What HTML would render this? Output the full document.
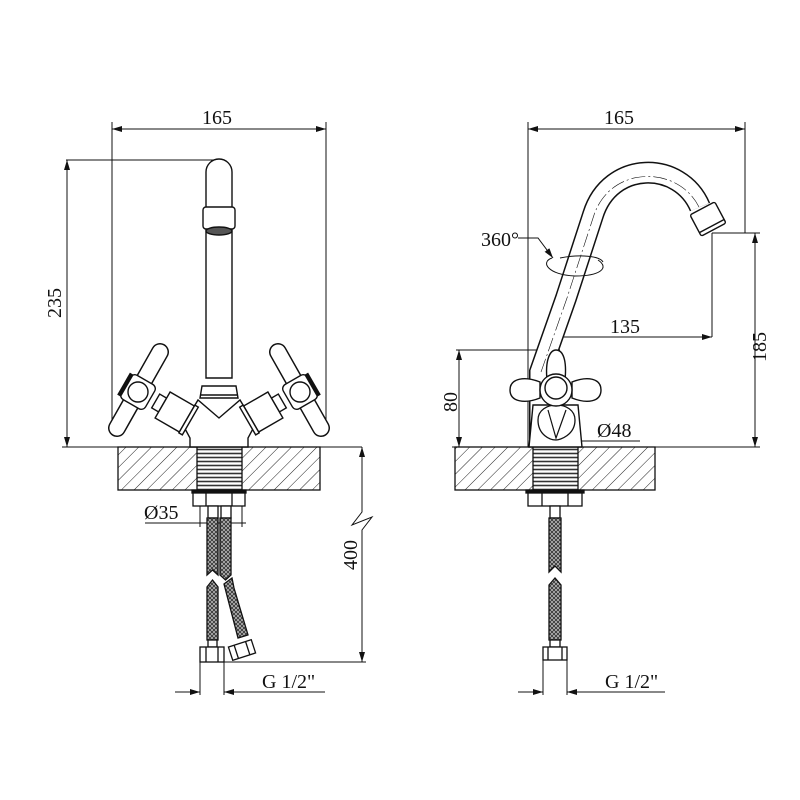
<!DOCTYPE html>
<html><head><meta charset="utf-8"><style>
html,body{margin:0;padding:0;background:#fff;}
svg{display:block;}
text{font-family:"Liberation Serif",serif;font-size:20px;fill:#111;}
</style></head><body>
<svg width="800" height="800" viewBox="0 0 800 800" xmlns="http://www.w3.org/2000/svg">
<defs>
<pattern id="hatch" width="9" height="9" patternUnits="userSpaceOnUse" patternTransform="rotate(45)">
<rect width="9" height="9" fill="#fff"/><line x1="0" y1="0" x2="0" y2="9" stroke="#222" stroke-width="1"/>
</pattern>
<pattern id="thread" width="4" height="4" patternUnits="userSpaceOnUse">
<rect width="4" height="4" fill="#fff"/><line x1="0" y1="1.5" x2="4" y2="1.5" stroke="#333" stroke-width="1.6"/>
</pattern>
<pattern id="braid" width="4" height="4" patternUnits="userSpaceOnUse">
<rect width="4" height="4" fill="#bbb"/><path d="M0 0 L4 4 M4 0 L0 4" stroke="#333" stroke-width="0.9"/>
</pattern>
<marker id="ar" viewBox="0 0 10 6" refX="10" refY="3" markerWidth="10" markerHeight="6" orient="auto-start-reverse" markerUnits="userSpaceOnUse">
<path d="M0 0 L10 3 L0 6 Z" fill="#111"/></marker>
</defs>
<g fill="none" stroke="#111" stroke-width="1">
<!-- ===== LEFT VIEW dims ===== -->
<line x1="112" y1="129" x2="326" y2="129" marker-start="url(#ar)" marker-end="url(#ar)"/>
<line x1="112" y1="122" x2="112" y2="425"/>
<line x1="326" y1="122" x2="326" y2="427"/>
<line x1="66" y1="160" x2="218" y2="160"/>
<line x1="67" y1="160" x2="67" y2="447" marker-start="url(#ar)" marker-end="url(#ar)"/>
<line x1="62" y1="447" x2="362" y2="447"/>
<!-- 400 -->
<path d="M362 447 L362 512 L352 525 L372 517 L362 530 L362 662" marker-start="url(#ar)" marker-end="url(#ar)"/>
<line x1="224" y1="662" x2="366" y2="662"/>
<!-- Ø35 -->
<line x1="145" y1="523" x2="246" y2="523"/>
<line x1="200" y1="505" x2="200" y2="527"/>
<line x1="242" y1="505" x2="242" y2="527"/>
<!-- G 1/2 left -->
<line x1="200" y1="662" x2="200" y2="695"/>
<line x1="224" y1="662" x2="224" y2="695"/>
<line x1="175" y1="692" x2="200" y2="692" marker-end="url(#ar)"/>
<line x1="224" y1="692" x2="325" y2="692" marker-start="url(#ar)"/>
</g>
<text x="202" y="124">165</text>
<text transform="translate(61,318) rotate(-90)">235</text>
<text transform="translate(357,570) rotate(-90)">400</text>
<text x="144" y="519">Ø35</text>
<text x="262" y="688">G 1/2"</text>

<!-- LEFT slab -->
<g stroke="#111" stroke-width="1.3">
<rect x="118" y="447" width="202" height="43" fill="url(#hatch)"/>
<rect x="197" y="447" width="45" height="45" fill="url(#thread)"/>
<rect x="192" y="490" width="54" height="3" fill="#111"/>
<rect x="193" y="493" width="52" height="13" fill="#fff"/>
<line x1="206" y1="493" x2="206" y2="506"/><line x1="232" y1="493" x2="232" y2="506"/>
<!-- hoses -->
<rect x="208" y="506" width="10" height="12" fill="#fff"/>
<rect x="221" y="506" width="10" height="12" fill="#fff"/>
<path d="M207 518 L218 518 L218 575 L212.5 570 L207 575 Z" fill="url(#braid)"/>
<path d="M220 518 L231 518 L231 575 L225.5 580 L220 575 Z" fill="url(#braid)"/>
<path d="M207 587 L212.5 580 L218 587 L218 640 L207 640 Z" fill="url(#braid)"/>
<path d="M224 584 L232 578 L234 588 L248 635 L238 638 Z" fill="url(#braid)"/>
<rect x="208" y="640" width="9" height="7" fill="#fff"/>
<rect x="200" y="647" width="24" height="15" fill="#fff"/>
<line x1="206" y1="647" x2="206" y2="662"/><line x1="218" y1="647" x2="218" y2="662"/>
<g transform="translate(242,650) rotate(-18)"><rect x="-12" y="-7" width="24" height="14" fill="#fff"/><line x1="-6" y1="-7" x2="-6" y2="7"/><line x1="6" y1="-7" x2="6" y2="7"/></g>
</g>

<!-- LEFT faucet -->
<g stroke="#111" stroke-width="1.4" fill="#fff">
<path d="M206 378 L206 172 A13 13 0 0 1 232 172 L232 378 Z"/>
<rect x="203" y="207" width="32" height="22" rx="3"/>
<ellipse cx="219" cy="231" rx="13" ry="4" fill="#555"/>
<path d="M183 425 L190 438 L190 447 L248 447 L248 438 L255 425 L240 400 L219 418 L198 400 Z"/>
<path d="M202 386 L236 386 L238 398 L200 398 Z"/>
<line x1="201" y1="395" x2="237" y2="395"/>
<g id="lh">
<line x1="160" y1="352" x2="117" y2="428" stroke="#111" stroke-width="18" stroke-linecap="round"/>
<line x1="160" y1="352" x2="117" y2="428" stroke="#fff" stroke-width="15" stroke-linecap="round"/>
<g transform="translate(138,392) rotate(30)"><rect x="-14" y="-14" width="28" height="28" rx="5"/><rect x="-16" y="-12" width="3" height="24" fill="#111"/></g>
<circle cx="138" cy="392" r="10"/>
<g transform="translate(173,411) rotate(30)"><rect x="-20" y="-8" width="8" height="16"/><rect x="-12" y="-15" width="28" height="30"/><rect x="16" y="-16" width="4" height="32"/></g>
</g>
<use href="#lh" transform="translate(438,0) scale(-1,1)"/>
</g>

<!-- ===== RIGHT VIEW dims ===== -->
<g fill="none" stroke="#111" stroke-width="1">
<line x1="528" y1="129" x2="745" y2="129" marker-start="url(#ar)" marker-end="url(#ar)"/>
<line x1="528" y1="122" x2="528" y2="447"/>
<line x1="745" y1="122" x2="745" y2="233"/>
<line x1="712" y1="233" x2="760" y2="233"/>
<line x1="755" y1="233" x2="755" y2="447" marker-start="url(#ar)" marker-end="url(#ar)"/>
<line x1="452" y1="447" x2="760" y2="447"/>
<line x1="712" y1="233" x2="712" y2="337"/>
<line x1="547" y1="337" x2="712" y2="337" marker-start="url(#ar)" marker-end="url(#ar)"/>
<line x1="456" y1="350" x2="560" y2="350"/>
<line x1="459" y1="350" x2="459" y2="447" marker-start="url(#ar)" marker-end="url(#ar)"/>
<line x1="529" y1="441" x2="640" y2="441"/>
<line x1="529" y1="441" x2="580" y2="441" marker-start="url(#ar)" marker-end="url(#ar)"/>
<path d="M518 238 L538 238 L553 258" marker-end="url(#ar)"/>
<line x1="518" y1="692" x2="543" y2="692" marker-end="url(#ar)"/>
<line x1="567" y1="692" x2="665" y2="692" marker-start="url(#ar)"/>
<line x1="543" y1="660" x2="543" y2="695"/>
<line x1="567" y1="660" x2="567" y2="695"/>
</g>
<text x="604" y="124">165</text>
<text x="481" y="246">360°</text>
<text x="610" y="333">135</text>
<text transform="translate(766,362) rotate(-90)">185</text>
<text transform="translate(457,412) rotate(-90)">80</text>
<text x="597" y="437">Ø48</text>
<text x="605" y="688">G 1/2"</text>

<!-- RIGHT slab -->
<g stroke="#111" stroke-width="1.3">
<rect x="455" y="447" width="200" height="43" fill="url(#hatch)"/>
<rect x="533" y="447" width="45" height="45" fill="url(#thread)"/>
<rect x="526" y="490" width="58" height="3" fill="#111"/>
<rect x="528" y="493" width="54" height="13" fill="#fff"/>
<line x1="542" y1="493" x2="542" y2="506"/><line x1="568" y1="493" x2="568" y2="506"/>
<rect x="550" y="506" width="10" height="12" fill="#fff"/>
<path d="M549 518 L561 518 L561 572 L555 566 L549 572 Z" fill="url(#braid)"/>
<path d="M549 585 L555 578 L561 585 L561 640 L549 640 Z" fill="url(#braid)"/>
<rect x="550" y="640" width="10" height="7" fill="#fff"/>
<rect x="543" y="647" width="24" height="13" fill="#fff"/>
<line x1="548" y1="647" x2="548" y2="660"/><line x1="562" y1="647" x2="562" y2="660"/>
</g>

<!-- RIGHT faucet -->
<g stroke="#111" fill="none">
<path d="M540 447 L540 372 L566 298 L593 215 C610 160 680 160 700 207" stroke-width="22"/>
<path d="M540 447 L540 372 L566 298 L593 215 C610 160 680 160 700 207" stroke="#fff" stroke-width="19"/>
<path d="M541 372 L567 298 L594 215 C611 165 678 165 699 207" stroke-width="0.6" stroke-dasharray="14 3 2 3"/>
<g transform="translate(708,219) rotate(-28)" fill="#fff" stroke-width="1.4"><rect x="-14" y="-12" width="28" height="24" rx="2"/><line x1="-14" y1="8" x2="14" y2="8"/></g>
<path d="M552 258 C540 262 548 275 575 276 C600 276 610 268 598 260" stroke-width="1"/>
<path d="M560 258 C580 254 600 256 603 262" stroke-width="1"/>
<path d="M529 447 L533 405 L578 405 L582 447 Z" fill="#fff" stroke-width="1.4"/>
<path d="M538 420 C538 400 575 400 575 420 C575 435 560 440 556 440 C550 440 538 435 538 420 Z" fill="#fff" stroke-width="1.3"/>
<path d="M548 410 L556 438 L566 410" stroke-width="1.2"/>
<g fill="#fff" stroke-width="1.4">
<path d="M547 380 C545 360 550 350 556 350 C563 350 567 360 565 380 Z"/>
<path d="M540 382 C525 376 510 378 510 390 C510 402 525 404 540 398 Z"/>
<path d="M572 382 C587 376 601 378 601 390 C601 402 587 404 572 398 Z"/>
<circle cx="556" cy="390" r="16"/>
<circle cx="556" cy="388" r="11"/>
</g>
</g>
</svg>
</body></html>
